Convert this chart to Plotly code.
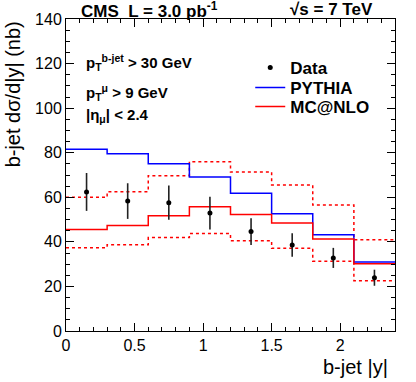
import plotly.graph_objects as go

# bin edges in b-jet |y|
bin_edges = [0.0, 0.3, 0.6, 0.9, 1.2, 1.5, 1.8, 2.1, 2.4]
bin_centers = [0.15, 0.45, 0.75, 1.05, 1.35, 1.65, 1.95, 2.25]

# measured cross section (nb) and errors
data_vals = [62.4, 58.3, 57.6, 52.9, 44.6, 38.6, 32.8, 23.9]
data_errs = [8.5, 8.0, 7.7, 7.3, 6.0, 5.3, 4.5, 3.6]

# predictions
pythia = [81.5, 79.5, 75.1, 69.1, 61.8, 52.6, 43.2, 31.0]
mcatnlo = [45.6, 47.3, 51.7, 55.8, 52.3, 48.5, 41.3, 30.2]
mcatnlo_up = [60.0, 62.5, 69.7, 76.0, 71.3, 65.5, 56.5, 41.0]
mcatnlo_down = [37.4, 38.7, 41.9, 43.7, 40.5, 37.1, 31.3, 22.6]

FONT = "Liberation Sans"


def steps(vals):
    # repeat last value so the hv step reaches the final edge
    return vals + [vals[-1]]


fig = go.Figure()

fig.add_trace(go.Scatter(x=bin_edges, y=steps(mcatnlo_up), mode='lines', line_shape='hv',
                         line=dict(color='#ff0000', width=1.5, dash='dot'), showlegend=False))
fig.add_trace(go.Scatter(x=bin_edges, y=steps(mcatnlo_down), mode='lines', line_shape='hv',
                         line=dict(color='#ff0000', width=1.5, dash='dot'), showlegend=False))
fig.add_trace(go.Scatter(x=bin_edges, y=steps(pythia), mode='lines', line_shape='hv',
                         line=dict(color='#0000ff', width=1.5), name='PYTHIA', legend='legend2'))
fig.add_trace(go.Scatter(x=bin_edges, y=steps(mcatnlo), mode='lines', line_shape='hv',
                         line=dict(color='#ff0000', width=1.5), name='MC@NLO', legend='legend3'))
fig.add_trace(go.Scatter(x=bin_centers, y=data_vals, mode='markers', name='Data', legend='legend',
                         marker=dict(color='black', size=5, symbol='circle'),
                         error_y=dict(type='data', array=data_errs, color='#222222',
                                      thickness=1.6, width=0)))

axis_common = dict(showline=True, linecolor='black', linewidth=1, mirror='ticks',
                   ticks='inside', ticklen=8, tickcolor='black', showgrid=False,
                   zeroline=False, tickfont=dict(family=FONT, size=16, color='black'))

fig.update_xaxes(range=[0, 2.4], dtick=0.5, tick0=0,
                 minor=dict(dtick=0.1, ticks='inside', ticklen=4, tickcolor='black'),
                 **axis_common)
fig.update_yaxes(range=[0, 140], dtick=20, tick0=0,
                 minor=dict(dtick=5, ticks='inside', ticklen=4, tickcolor='black'),
                 **axis_common)

annotations = [
    dict(text="b-jet |y|", x=0.985, y=-0.075, xanchor='right', yanchor='top',
         font=dict(size=20)),
    dict(text="b-jet d\u03c3/d|y| (nb)", x=-0.16, y=1, xanchor='center', yanchor='top',
         textangle=-90, font=dict(size=20)),
    dict(text="<b>CMS  L = 3.0 pb<sup>-1</sup></b>", x=0.04, y=1.03, xanchor='left',
         yanchor='middle', font=dict(size=17)),
    dict(text="<b>\u221as = 7 TeV</b>", x=0.675, y=1.03, xanchor='left', yanchor='middle',
         font=dict(size=17)),
    dict(text="<b>p<sub>T</sub><sup>b-jet</sup> > 30 GeV</b>", x=0.055, y=0.86,
         xanchor='left', yanchor='middle', font=dict(size=15)),
    dict(text="<b>p<sub>T</sub><sup>\u03bc</sup> > 9 GeV</b>", x=0.055, y=0.763,
         xanchor='left', yanchor='middle', font=dict(size=15)),
    dict(text="<b>|\u03b7<sub>\u03bc</sub>| < 2.4</b>", x=0.055, y=0.69,
         xanchor='left', yanchor='middle', font=dict(size=15)),
]
for a in annotations:
    a.update(xref='paper', yref='paper', showarrow=False)
    a['font'].update(family=FONT, color='black')

legend_font = dict(family=FONT, size=17, color='black', weight='bold')
legend_common = dict(x=0.56, xanchor='left', yanchor='middle', bgcolor='rgba(0,0,0,0)',
                     font=legend_font)

fig.update_layout(
    width=416, height=382,
    margin=dict(l=66, r=21, t=19, b=51),
    plot_bgcolor='white', paper_bgcolor='white',
    font=dict(family=FONT, color='black'),
    annotations=annotations,
    legend=dict(y=0.843, **legend_common),
    legend2=dict(y=0.779, **legend_common),
    legend3=dict(y=0.718, **legend_common),
)

fig.write_html("out.html", config={'displayModeBar': False},
               post_script="document.body.style.margin='0';")
